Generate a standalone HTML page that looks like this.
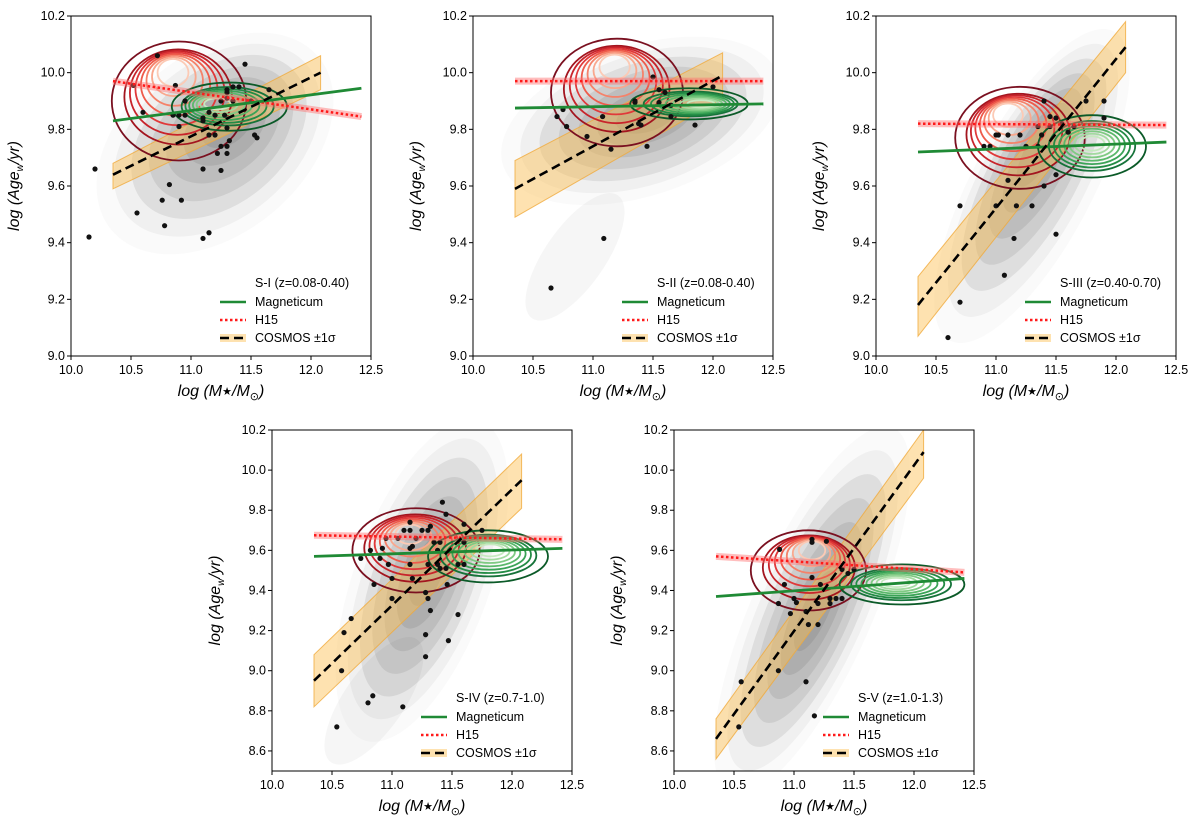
<!DOCTYPE html>
<html><head><meta charset="utf-8"><style>
body{margin:0;background:#fff}
svg text{font-family:"Liberation Sans","DejaVu Sans",sans-serif;fill:#000}
</style></head><body>
<svg id="fig" width="1200" height="827" viewBox="0 0 1200 827" xmlns="http://www.w3.org/2000/svg"></svg>
<script>
// ---- data ----
const panelTitles = ["S-I (z=0.08-0.40)","S-II (z=0.08-0.40)","S-III (z=0.40-0.70)","S-IV (z=0.7-1.0)","S-V (z=1.0-1.3)"];
const yMins = [9.0,9.0,9.0,8.5,8.5];
const yMax = 10.2;
const xTicks = [10.0,10.5,11.0,11.5,12.0,12.5];
const yTicksTop = [9.0,9.2,9.4,9.6,9.8,10.0,10.2];
const yTicksBottom = [8.6,8.8,9.0,9.2,9.4,9.6,9.8,10.0,10.2];
const magX = [10.35,12.42];
const magY = [[9.83,9.945],[9.875,9.89],[9.72,9.755],[9.57,9.61],[9.37,9.46]];
const h15X = [10.35,12.42];
const h15Y = [[9.97,9.845],[9.97,9.97],[9.82,9.815],[9.675,9.655],[9.57,9.49]];
const cosX = [10.35,12.08];
const cosY = [[9.64,10.0],[9.59,9.99],[9.18,10.09],[8.95,9.95],[8.66,10.09]];
const cosLo = [[9.59,9.94],[9.49,9.91],[9.07,10.0],[8.82,9.81],[8.56,9.96]];
const cosHi = [[9.68,10.06],[9.69,10.07],[9.28,10.18],[9.08,10.08],[8.76,10.2]];
const pts1 = [[10.15,9.42],[10.2,9.66],[10.52,9.955],[10.6,9.86],[10.55,9.505],[10.72,10.06],[10.76,9.55],[10.78,9.46],[10.82,9.605],[10.87,9.955],[10.9,9.85],[10.85,9.85],[10.92,9.55],[10.95,9.85],[10.95,9.9],[10.9,9.81],[11.1,9.66],[11.1,9.415],[11.15,9.435],[11.1,9.84],[11.1,9.83],[11.15,9.78],[11.15,9.86],[11.2,9.85],[11.2,9.78],[11.22,9.715],[11.25,9.655],[11.25,9.74],[11.25,9.9],[11.3,9.93],[11.3,9.94],[11.3,9.91],[11.3,9.74],[11.3,9.715],[11.3,9.805],[11.32,9.76],[11.35,9.95],[11.4,9.95],[11.45,10.03],[11.5,9.9],[11.53,9.78],[11.55,9.77],[11.65,9.94],[11.35,9.9],[11.28,9.85]];
const pts2 = [[10.65,9.24],[11.09,9.415],[10.7,9.845],[10.75,9.87],[10.78,9.81],[10.95,9.775],[11.08,9.845],[11.15,9.73],[11.35,9.9],[11.35,9.895],[11.38,9.82],[11.4,9.815],[11.45,9.74],[11.5,9.985],[11.55,9.94],[11.6,9.93],[11.55,9.895],[11.65,9.885],[11.65,9.845],[11.85,9.815],[12.0,9.95]];
const pts3 = [[10.6,9.065],[10.7,9.19],[10.7,9.53],[10.9,9.74],[10.95,9.74],[11.0,9.78],[11.02,9.78],[11.1,9.78],[11.2,9.78],[11.07,9.285],[11.0,9.53],[11.15,9.415],[11.17,9.53],[11.3,9.53],[11.25,9.74],[11.35,9.74],[11.35,9.81],[11.38,9.78],[11.4,9.6],[11.4,9.9],[11.45,9.81],[11.45,9.845],[11.5,9.84],[11.5,9.64],[11.5,9.43],[11.55,9.82],[11.6,9.79],[11.65,9.81],[11.75,9.9],[11.9,9.9],[11.9,9.84],[11.1,9.62]];
const pts4 = [[10.54,8.72],[10.58,9.0],[10.6,9.19],[10.66,9.26],[10.74,9.56],[10.8,8.84],[10.82,9.6],[10.84,8.875],[10.85,9.43],[10.9,9.56],[10.92,9.61],[10.95,9.66],[10.97,9.53],[11.0,9.46],[11.0,9.36],[11.05,9.66],[11.09,8.82],[11.1,9.7],[11.15,9.74],[11.15,9.7],[11.15,9.61],[11.17,9.62],[11.15,9.53],[11.17,9.46],[11.2,9.66],[11.25,9.7],[11.28,9.39],[11.28,9.18],[11.28,9.07],[11.3,9.36],[11.32,9.3],[11.3,9.7],[11.32,9.72],[11.35,9.64],[11.3,9.53],[11.38,9.53],[11.4,9.51],[11.4,9.64],[11.42,9.84],[11.45,9.51],[11.45,9.78],[11.46,9.43],[11.47,9.15],[11.55,9.28],[11.55,9.53],[11.6,9.73],[11.6,9.64],[11.6,9.53],[11.75,9.7],[11.38,9.6]];
const pts5 = [[10.54,8.72],[10.56,8.945],[10.87,9.0],[10.88,9.605],[10.87,9.335],[10.92,9.43],[10.97,9.285],[11.0,9.36],[11.02,9.34],[11.1,9.295],[11.1,8.945],[11.12,9.23],[11.15,9.655],[11.15,9.64],[11.15,9.465],[11.17,8.775],[11.2,9.23],[11.2,9.335],[11.22,9.43],[11.27,9.645],[11.3,9.36],[11.3,9.335],[11.35,9.36],[11.4,9.36],[11.4,9.505],[11.45,9.485],[11.5,9.505]];
const points = [pts1,pts2,pts3,pts4,pts5];
const redC = [[10.9,9.9,10.85,10.0,0.56,0.21],[11.2,9.93,11.18,10.02,0.55,0.19],[11.2,9.77,11.1,9.85,0.54,0.18],[11.2,9.6,11.15,9.68,0.53,0.21],[11.12,9.5,11.15,9.6,0.48,0.2]];
const greenC = [[11.32,9.88,11.22,9.89,0.48,0.085],[11.8,9.89,11.9,9.89,0.49,0.055],[11.8,9.74,11.8,9.75,0.45,0.11],[11.8,9.57,11.82,9.6,0.5,0.13],[11.9,9.43,11.85,9.44,0.52,0.1]];
const greyC = [[11.2,9.75,11.3,9.82],[11.4,9.83,11.45,9.85],[11.3,9.6,11.35,9.72],[11.25,9.45,11.3,9.5],[11.15,9.3,11.18,9.3]];
const greyShape = [[135,90,-40],[145,75,-18],[175,60,-62],[170,68,-70],[200,60,-66]];
const tailC = [null,[10.85,9.35],null,[10.85,8.85],null];
// ---- layout ----
const boxes = [[71,16,371,356],[473,16,773,356],[876,16,1176,356],[272,430,572,771],[674,430,974,771]];
const NS="http://www.w3.org/2000/svg";
const svg=document.getElementById('fig');
function mk(tag,attrs,parent){const e=document.createElementNS(NS,tag);for(const k in attrs)e.setAttribute(k,attrs[k]);(parent||svg).appendChild(e);return e;}
const redCols=["#7a1020","#a3151f","#c8242b","#e0393a","#ee5b4b","#f5826a","#f9a88e","#fccab5"];
const greenCols=["#0b5a28","#16733a","#238b45","#3aa356","#5bb86b","#7fca83","#a3daa0","#c6e9c0"];
const defs=mk('defs',{});
boxes.forEach((b,i)=>{
  const [L,T,R,B]=b, ymin=yMins[i];
  const X=v=>L+(v-10)/(12.5-10)*(R-L);
  const Y=v=>B-(v-ymin)/(yMax-ymin)*(B-T);
  const g=mk('g',{});
  
  
  const cp=mk('clipPath',{id:'cp'+i},defs);mk('rect',{x:L,y:T,width:R-L,height:B-T},cp);
  const pg=mk('g',{'clip-path':'url(#cp'+i+')'},g);
  const gc=greyC[i], gs=greyShape[i];
  if(tailC[i]){const t=tailC[i];const e=mk('ellipse',{cx:X(t[0]),cy:Y(t[1]),rx:75,ry:30,transform:`rotate(-55 ${X(t[0])} ${Y(t[1])})`,fill:'rgba(0,0,0,0.035)'},pg);}
  for(let k=0;k<7;k++){const f=k/6,s=1-k*0.13;
    const cx=X(gc[0]+(gc[2]-gc[0])*f),cy=Y(gc[1]+(gc[3]-gc[1])*f);
    const e=mk('ellipse',{cx:cx,cy:cy,rx:gs[0]*s,ry:gs[1]*s,transform:`rotate(${gs[2]} ${cx} ${cy})`,fill:k==0?'rgba(0,0,0,0.02)':(k==1?'rgba(0,0,0,0.04)':'rgba(0,0,0,0.075)')},pg);
    }
  const band=mk('polygon',{points:`${X(cosX[0])},${Y(cosLo[i][0])} ${X(cosX[1])},${Y(cosLo[i][1])} ${X(cosX[1])},${Y(cosHi[i][1])} ${X(cosX[0])},${Y(cosHi[i][0])}`,fill:'rgba(253,190,80,0.45)',stroke:'rgba(240,170,60,0.8)','stroke-width':1},pg);
  
  function contours(c,cols,name){for(let k=0;k<8;k++){const f=k/7,s=k==0?1:0.8-(k-1)*0.095;
    const e=mk('ellipse',{cx:X(c[0]+(c[2]-c[0])*f),cy:Y(c[1]+(c[3]-c[1])*f),rx:(X(10+c[4])-X(10))*s,ry:(Y(ymin)-Y(ymin+c[5]))*s,fill:'none',stroke:cols[k],'stroke-width':1.8},pg);
    }}
  contours(redC[i],redCols,'h15-contour');
  contours(greenC[i],greenCols,'magneticum-contour');
  points[i].forEach(p=>{const c=mk('circle',{cx:X(p[0]),cy:Y(p[1]),r:2.6,fill:'#111'},pg);});
  const hb=mk('line',{x1:X(h15X[0]),y1:Y(h15Y[i][0]),x2:X(h15X[1]),y2:Y(h15Y[i][1]),stroke:'rgba(255,110,110,0.45)','stroke-width':7},pg);
  
  const hl=mk('line',{x1:X(h15X[0]),y1:Y(h15Y[i][0]),x2:X(h15X[1]),y2:Y(h15Y[i][1]),stroke:'#ff1a1a','stroke-width':2.5,'stroke-dasharray':'2.5,2.5'},pg);
  
  const ml=mk('line',{x1:X(magX[0]),y1:Y(magY[i][0]),x2:X(magX[1]),y2:Y(magY[i][1]),stroke:'#1f8a35','stroke-width':2.8},pg);
  
  const cl=mk('line',{x1:X(cosX[0]),y1:Y(cosY[i][0]),x2:X(cosX[1]),y2:Y(cosY[i][1]),stroke:'#000','stroke-width':2.6,'stroke-dasharray':'9,5'},pg);
  
  const fr=mk('rect',{x:L,y:T,width:R-L,height:B-T,fill:'none',stroke:'#000','stroke-width':1},g);
  
  xTicks.forEach(v=>{mk('line',{x1:X(v),x2:X(v),y1:B,y2:B+4,stroke:'#000'},g);
    const t=mk('text',{x:X(v),y:B+18,'text-anchor':'middle','font-size':12.5},g);t.textContent=v.toFixed(1);
    });
  (i<3?yTicksTop:yTicksBottom).forEach(v=>{mk('line',{x1:L-4,x2:L,y1:Y(v),y2:Y(v),stroke:'#000'},g);
    const t=mk('text',{x:L-6,y:Y(v)+4,'text-anchor':'end','font-size':12.5},g);t.textContent=v.toFixed(1);
    });
  const xt=mk('text',{x:(L+R)/2,y:B+40,'text-anchor':'middle','font-size':16,'font-style':'italic'},g);
  xt.innerHTML='log (M<tspan font-size="11" dy="-1">★</tspan><tspan dy="1">/M</tspan><tspan font-size="11" dy="4">⊙</tspan><tspan dy="-4">)</tspan>';
  
  const yx=L-52, yy=(T+B)/2;
  const yt=mk('text',{x:yx,y:yy,'text-anchor':'middle','font-size':16,'font-style':'italic',transform:`rotate(-90 ${yx} ${yy})`},g);
  yt.innerHTML='log (Age<tspan font-size="10" dy="4">w</tspan><tspan dy="-4">/yr)</tspan>';
  
  const lg=mk('g',{},g);
  const tx=R-116;
  const tt=mk('text',{x:tx,y:B-69,'font-size':12.5},lg);tt.textContent=panelTitles[i];
  
  const rows=[['Magneticum',B-50],['H15',B-32],['COSMOS ±1σ',B-14]];
  mk('line',{x1:R-151,x2:R-125,y1:B-54,y2:B-54,stroke:'#1f8a35','stroke-width':2.5},lg);
  mk('line',{x1:R-151,x2:R-125,y1:B-36,y2:B-36,stroke:'#ff1a1a','stroke-width':2.5,'stroke-dasharray':'2.5,2.5'},lg);
  mk('rect',{x:R-151,y:B-22,width:26,height:8,fill:'rgba(253,190,80,0.45)'},lg);
  mk('line',{x1:R-151,x2:R-125,y1:B-18,y2:B-18,stroke:'#000','stroke-width':2.5,'stroke-dasharray':'9,5'},lg);
  rows.forEach(r=>{const t=mk('text',{x:tx,y:r[1],'font-size':12.5},lg);t.textContent=r[0];
    });
});
</script>
</body></html>
